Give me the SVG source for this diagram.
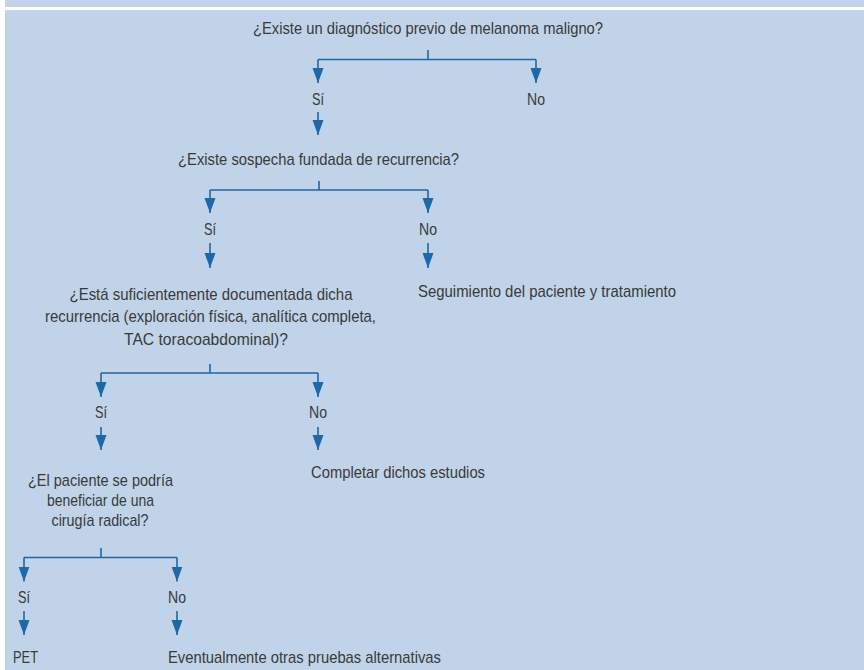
<svg xmlns="http://www.w3.org/2000/svg" width="864" height="670" viewBox="0 0 864 670">
<style>
text{font-family:"Liberation Sans",Arial,sans-serif;font-size:17px;fill:#3a3a3a}
.c{text-anchor:middle}
.ln{stroke:#1c68a8;stroke-width:1.6;fill:none}
.ar{marker-end:url(#ah)}
</style>
<defs>
<marker id="ah" markerUnits="userSpaceOnUse" markerWidth="15" markerHeight="12" refX="15" refY="6" orient="auto">
<path d="M0,0.5 L15,6 L0,11.5 z" fill="#1c68a8"/>
</marker>
</defs>
<rect x="0" y="0" width="864" height="670" fill="#ffffff"/>
<rect x="5" y="0" width="859" height="7" fill="#c1d3e8"/>
<rect x="5" y="10" width="859" height="660" fill="#c1d3e8"/>
<g id="connectors">
<path class="ln" d="M428,50 V59.5 M318,59.5 H536"/>
<path class="ln ar" d="M318,59.5 V83"/>
<path class="ln ar" d="M536,59.5 V83"/>
<path class="ln ar" d="M318,112 V135"/>
<path class="ln" d="M319,181 V190 M210,190 H428"/>
<path class="ln ar" d="M210,190 V213"/>
<path class="ln ar" d="M428,190 V213"/>
<path class="ln ar" d="M210,243 V268"/>
<path class="ln ar" d="M428,243 V268"/>
<path class="ln" d="M210,364 V373 M101,373 H318"/>
<path class="ln ar" d="M101,373 V397"/>
<path class="ln ar" d="M318,373 V397"/>
<path class="ln ar" d="M101,427 V450"/>
<path class="ln ar" d="M318,427 V450"/>
<path class="ln" d="M101,548 V557.5 M24,557.5 H177"/>
<path class="ln ar" d="M24,557.5 V581.5"/>
<path class="ln ar" d="M177,557.5 V581.5"/>
<path class="ln ar" d="M24,611 V635"/>
<path class="ln ar" d="M177,611 V635"/>
</g>
<g id="q1"><text class="c" x="428" y="34" textLength="350" lengthAdjust="spacingAndGlyphs">¿Existe un diagnóstico previo de melanoma maligno?</text></g>
<g id="q1-si"><text class="c" x="318" y="105" textLength="12" lengthAdjust="spacingAndGlyphs">Sí</text></g>
<g id="q1-no"><text class="c" x="536" y="105" textLength="18" lengthAdjust="spacingAndGlyphs">No</text></g>
<g id="q2"><text class="c" x="318.5" y="165" textLength="281" lengthAdjust="spacingAndGlyphs">¿Existe sospecha fundada de recurrencia?</text></g>
<g id="q2-si"><text class="c" x="210" y="235" textLength="12" lengthAdjust="spacingAndGlyphs">Sí</text></g>
<g id="q2-no"><text class="c" x="428" y="235" textLength="18" lengthAdjust="spacingAndGlyphs">No</text></g>
<g id="q3"><text class="c" x="211" y="300" textLength="283" lengthAdjust="spacingAndGlyphs">¿Está suficientemente documentada dicha</text><text class="c" x="210.5" y="322" textLength="331" lengthAdjust="spacingAndGlyphs">recurrencia (exploración física, analítica completa,</text><text class="c" x="206" y="345" textLength="164" lengthAdjust="spacingAndGlyphs">TAC toracoabdominal)?</text></g>
<g id="seguimiento"><text x="418" y="297" textLength="258" lengthAdjust="spacingAndGlyphs">Seguimiento del paciente y tratamiento</text></g>
<g id="q3-si"><text class="c" x="101" y="418" textLength="12" lengthAdjust="spacingAndGlyphs">Sí</text></g>
<g id="q3-no"><text class="c" x="318" y="418" textLength="18" lengthAdjust="spacingAndGlyphs">No</text></g>
<g id="q4"><text class="c" x="100.5" y="486" textLength="145" lengthAdjust="spacingAndGlyphs">¿El paciente se podría</text><text class="c" x="100.5" y="506" textLength="107" lengthAdjust="spacingAndGlyphs">beneficiar de una</text><text class="c" x="100" y="526" textLength="97" lengthAdjust="spacingAndGlyphs">cirugía radical?</text></g>
<g id="completar"><text x="311" y="478" textLength="174" lengthAdjust="spacingAndGlyphs">Completar dichos estudios</text></g>
<g id="q4-si"><text class="c" x="24" y="603" textLength="12" lengthAdjust="spacingAndGlyphs">Sí</text></g>
<g id="q4-no"><text class="c" x="177" y="603" textLength="18" lengthAdjust="spacingAndGlyphs">No</text></g>
<g id="pet"><text x="13" y="663" textLength="25" lengthAdjust="spacingAndGlyphs">PET</text></g>
<g id="eventualmente"><text x="168" y="663" textLength="273" lengthAdjust="spacingAndGlyphs">Eventualmente otras pruebas alternativas</text></g>
</svg>
